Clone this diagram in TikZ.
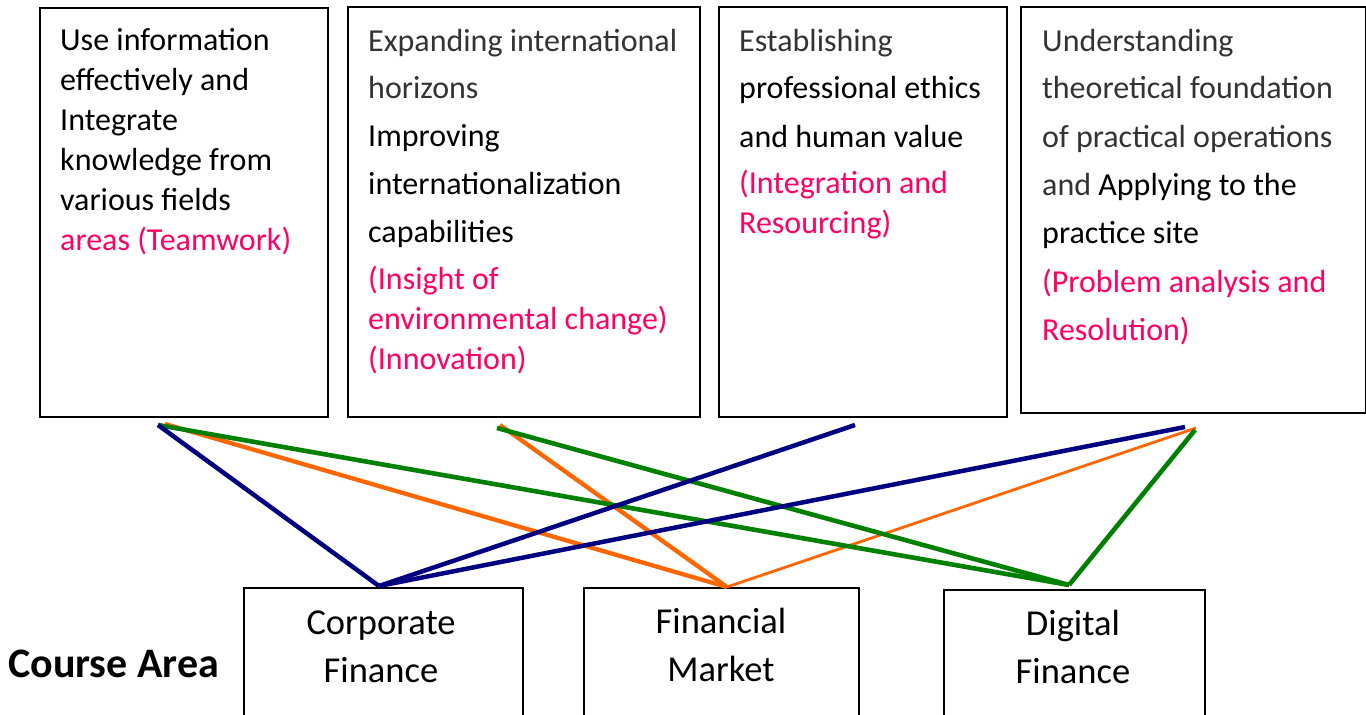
\documentclass[tikz,border=0pt]{standalone}
\usepackage{fontspec}
\setmainfont{Carlito}
\definecolor{navyl}{HTML}{000080}
\definecolor{orangel}{HTML}{FF6600}
\definecolor{greenl}{HTML}{008000}
\definecolor{pinkt}{HTML}{FF0066}
\definecolor{grayt}{HTML}{333333}
\begin{document}
\begin{tikzpicture}[x=1pt,y=-1pt,
  box/.style={draw=black, line width=1.8pt, anchor=north west, inner sep=0pt},
  toptext/.style={anchor=base west, align=left, inner sep=0pt, font=\fontsize{32}{40}\selectfont},
  bottext/.style={anchor=base, align=center, inner sep=0pt, font=\fontsize{36.5}{48}\selectfont},
  navyline/.style={draw=navyl, line width=4.5pt},
  orangeline/.style={draw=orangel, line width=4.3pt},
  orangethin/.style={draw=orangel, line width=2.8pt},
  greenline/.style={draw=greenl, line width=4.6pt}
]
\clip (0,0) rectangle (1366,715);
\fill[white] (0,0) rectangle (1366,715);

% top boxes
\node[box, minimum width=288pt, minimum height=409pt] (b1) at (39,7) {};
\node[box, minimum width=352pt, minimum height=410pt] (b2) at (347,6) {};
\node[box, minimum width=288pt, minimum height=410pt] (b3) at (718,6) {};
\node[box, minimum width=345pt, minimum height=406pt] (b4) at (1020,6) {};

% bottom boxes
\node[box, minimum width=279pt, minimum height=140pt] (c1) at (243,587) {};
\node[box, minimum width=275pt, minimum height=140pt] (c2) at (583,587) {};
\node[box, minimum width=261pt, minimum height=140pt] (c3) at (943,589) {};

% top texts (anchored at the baseline of the last line)
\node[toptext] (t1) at (60,250) {Use information\\effectively and\\Integrate\\knowledge from\\various fields\\\textcolor{pinkt}{areas (Teamwork)}};
\node[toptext] (t2) at (368,369) {\textcolor{grayt}{Expanding international}\\[7pt]\textcolor{grayt}{horizons}\\[8pt]Improving\\[8pt]internationalization\\[8pt]capabilities\\[7pt]\textcolor{pinkt}{(Insight of}\\\textcolor{pinkt}{environmental change)}\\\textcolor{pinkt}{(Innovation)}};
\node[toptext] (t3) at (739,233) {\textcolor{grayt}{Establishing}\\[7pt]professional ethics\\[9pt]and human value\\[6pt]\textcolor{pinkt}{(Integration and}\\\textcolor{pinkt}{Resourcing)}};
\node[toptext] (t4) at (1042,340) {\textcolor{grayt}{Understanding}\\[7pt]\textcolor{grayt}{theoretical foundation}\\[9pt]\textcolor{grayt}{of practical operations}\\[8pt]\textcolor{grayt}{and} Applying to the\\[8pt]practice site\\[9pt]\textcolor{pinkt}{(Problem analysis and}\\[8pt]\textcolor{pinkt}{Resolution)}};

% bottom texts
\node[bottext] (d1) at (381,682) {Corporate\\Finance};
\node[bottext] (d2) at (721,681) {Financial\\Market};
\node[bottext] (d3) at (1073,683) {Digital\\Finance};
\node[anchor=base west, inner sep=0pt, font=\fontsize{42}{48}\selectfont\bfseries] (lab) at (8,677) {Course Area};

% connector end points
\coordinate (p1) at (158,425);
\coordinate (p1o) at (165,424);
\coordinate (p2) at (497,428);
\coordinate (p2o) at (500,425);
\coordinate (p3) at (855,425);
\coordinate (p4b) at (1185,427);
\coordinate (p4o) at (1196,428);
\coordinate (p4g) at (1195,430);
\coordinate (q1) at (379,586);
\coordinate (q2) at (727,587);
\coordinate (q3) at (1069,585);

% connectors
\draw[orangeline] (p1o) -- (q2);
\draw[orangeline] (p2o) -- (q2);
\draw[orangethin] (q2) -- (p4o);
\draw[greenline] (p1) -- (q3);
\draw[greenline] (p2) -- (q3);
\draw[greenline] (q3) -- (p4g);
\draw[navyline] (p1) -- (q1);
\draw[navyline] (q1) -- (p3);
\draw[navyline] (q1) -- (p4b);
\end{tikzpicture}
\end{document}
